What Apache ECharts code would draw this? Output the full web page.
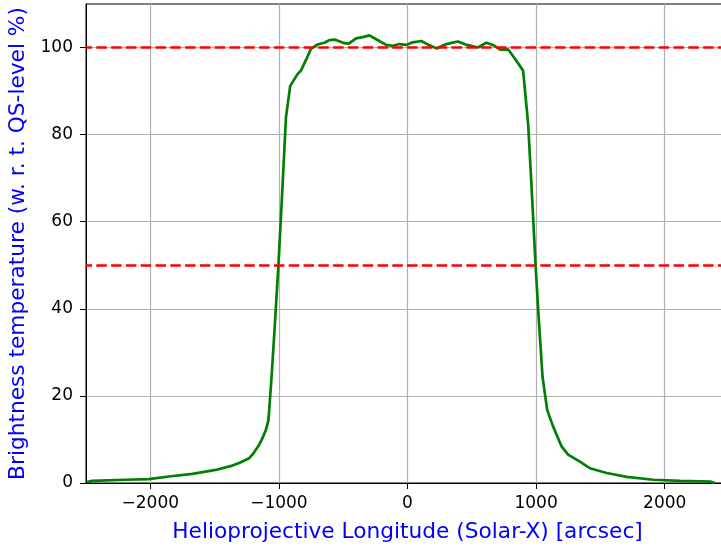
<!DOCTYPE html>
<html>
<head>
<meta charset="utf-8">
<script src="https://cdn.jsdelivr.net/npm/echarts@6/dist/echarts.min.js"></script>
<style>
html, body { margin: 0; padding: 0; background: #fff; }
#main { width: 721px; height: 548px; }
</style>
</head>
<body>
<div id="main"></div>
<script>
// solar-X positions (arcsec) and brightness temperature (% of QS level)
var solarX = [-2492, -2453, -2193, -2011, -1855, -1673, -1491, -1362, -1309, -1231, -1206, -1153, -1128,
  -1101, -1081, -1057, -1031, -1003, -972, -945, -912, -855, -829, -790, -751, -699, -647, -608, -561,
  -491, -457, -400, -348, -296, -244, -166, -115, -62, -10, 41, 107, 171, 228, 301, 392, 462, 548, 613,
  665, 722, 782, 834, 899, 938, 969, 995, 1023, 1050, 1086, 1132, 1198, 1249, 1340, 1418, 1549, 1704,
  1912, 2120, 2354, 2390];
var brightness = [0.2, 0.5, 0.75, 0.9, 1.5, 2.1, 3.0, 4.0, 4.6, 5.7, 6.5, 8.8, 10.3,
  12.2, 14.5, 24.4, 36.6, 50.4, 68.0, 84.0, 91.2, 93.9, 94.7, 97.1, 99.7, 100.7, 101.1, 101.7, 101.8,
  101.0, 100.9, 102.1, 102.4, 102.8, 101.9, 100.6, 100.4, 100.8, 100.6, 101.2, 101.5, 100.5, 99.8, 100.8, 101.4, 100.6, 100.0, 101.1,
  100.6, 99.5, 99.6, 97.5, 94.7, 82.5, 65.6, 50.4, 36.6, 24.4, 16.8, 13.0, 8.4, 6.5, 4.9, 3.4, 2.3, 1.4,
  0.75, 0.5, 0.35, 0.0];
var refLevels = [100, 50];
var xTickValues = [-2000, -1000, 0, 1000, 2000];
var yTickValues = [0, 20, 40, 60, 80, 100];

var dom = document.getElementById('main');
var myChart = echarts.init(dom);
var font = 'DejaVu Sans';

var points = [];
for (var i = 0; i < solarX.length; i++) {
    points.push([solarX[i], brightness[i]]);
}

var option = {
    animation: false,
    grid: {
        left: 86,
        right: -8,
        top: 4,
        bottom: 65,
        outerBoundsMode: 'none',
        containLabel: false,
        show: true,
        borderColor: '#000',
        borderWidth: 1,
        backgroundColor: 'transparent'
    },
    xAxis: {
        type: 'value',
        min: -2500,
        max: 2500,
        name: 'Helioprojective Longitude (Solar-X) [arcsec]',
        nameLocation: 'middle',
        nameGap: 38,
        nameTextStyle: { color: '#0000ff', fontSize: 21.7, fontFamily: font },
        axisLine: { onZero: false, lineStyle: { color: '#000', width: 1 } },
        axisTick: { inside: false, length: 6, lineStyle: { color: '#000' }, customValues: xTickValues },
        axisLabel: {
            color: '#000', fontSize: 17, fontFamily: font, margin: 12,
            customValues: xTickValues,
            formatter: function (v) { return v < 0 ? '\u2212' + Math.abs(v) : String(v); }
        },
        splitLine: { show: true, lineStyle: { color: '#b0b0b0', width: 1.2 } }
    },
    yAxis: {
        type: 'value',
        min: 0,
        max: 110,
        interval: 20,
        name: 'Brightness temperature (w. r. t. QS-level %)',
        nameLocation: 'middle',
        nameGap: 56,
        nameTextStyle: { color: '#0000ff', fontSize: 21.7, fontFamily: font },
        axisLine: { show: true, onZero: false, lineStyle: { color: '#000', width: 1 } },
        axisTick: { show: true, inside: false, length: 6, lineStyle: { color: '#000' }, customValues: yTickValues },
        axisLabel: { color: '#000', fontSize: 17, fontFamily: font, margin: 13, customValues: yTickValues },
        splitLine: { show: true, lineStyle: { color: '#b0b0b0', width: 1.2 } }
    },
    series: [
        {
            type: 'line',
            data: points,
            showSymbol: false,
            lineStyle: { color: '#008000', width: 2.7 },
            markLine: {
                silent: true,
                symbol: 'none',
                label: { show: false },
                lineStyle: { color: '#ff0000', type: [10.5, 4.3], dashOffset: 4.5, width: 2.7 },
                data: refLevels.map(function (v) { return { yAxis: v }; })
            }
        }
    ]
};

myChart.setOption(option, true);
window.addEventListener('resize', function () {
    myChart.resize();
});
</script>
</body>
</html>
